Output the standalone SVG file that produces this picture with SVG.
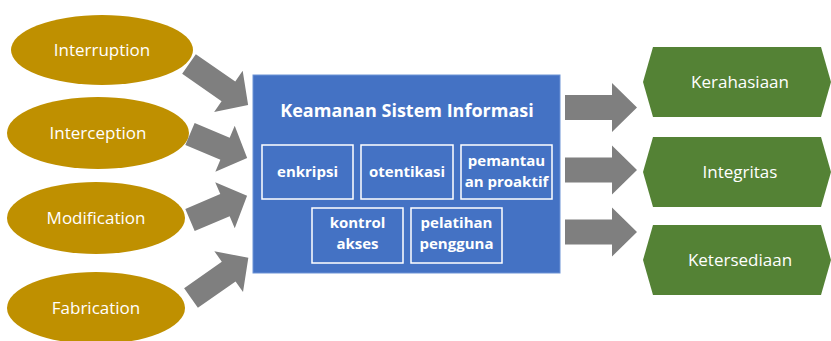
<svg xmlns="http://www.w3.org/2000/svg" width="831" height="341" viewBox="0 0 831 341">
  <style>
    .threat { fill: #BF9000; }
    .goal { fill: #548235; }
    .core { fill: #4472C4; stroke: #6d93d6; stroke-width: 1; }
    .item { fill: none; stroke: #ffffff; stroke-width: 1.5; }
    .arrow { fill: #7F7F7F; }
    .lbl { font-family: "Open Sans", "Noto Sans", sans-serif; font-size: 17px; fill: #ffffff; text-anchor: middle; }
    .title { font-family: "Open Sans", "Noto Sans", sans-serif; font-size: 18px; font-weight: bold; fill: #ffffff; text-anchor: middle; }
    .sub { font-family: "Open Sans", "Noto Sans", sans-serif; font-size: 15px; font-weight: bold; fill: #ffffff; text-anchor: middle; }
  </style>
  <rect width="831" height="341" fill="#ffffff"/>

  <!-- threats -->
  <g id="interruption">
    <ellipse class="threat" cx="102" cy="50" rx="91" ry="35"/>
    <text class="lbl" x="102" y="56">Interruption</text>
  </g>
  <g id="interception">
    <ellipse class="threat" cx="98" cy="133" rx="91" ry="36"/>
    <text class="lbl" x="98" y="139">Interception</text>
  </g>
  <g id="modification">
    <ellipse class="threat" cx="96" cy="218" rx="89" ry="36"/>
    <text class="lbl" x="96" y="224">Modification</text>
  </g>
  <g id="fabrication">
    <ellipse class="threat" cx="96" cy="308" rx="89" ry="36"/>
    <text class="lbl" x="96" y="314">Fabrication</text>
  </g>

  <!-- central block -->
  <g id="keamanan">
    <rect class="core" x="253" y="75" width="307" height="198"/>
    <text class="title" x="407" y="117">Keamanan Sistem Informasi</text>
  </g>
  <g id="enkripsi">
    <rect class="item" x="262" y="145" width="91" height="54"/>
    <text class="sub" x="307.5" y="177">enkripsi</text>
  </g>
  <g id="otentikasi">
    <rect class="item" x="361" y="145" width="92" height="54"/>
    <text class="sub" x="407" y="177">otentikasi</text>
  </g>
  <g id="pemantauan">
    <rect class="item" x="461" y="145" width="91" height="54"/>
    <text class="sub" x="506.5" y="166">pemantau</text>
    <text class="sub" x="506.5" y="187">an proaktif</text>
  </g>
  <g id="kontrol">
    <rect class="item" x="312" y="208" width="91" height="55"/>
    <text class="sub" x="357.5" y="228">kontrol</text>
    <text class="sub" x="357.5" y="249">akses</text>
  </g>
  <g id="pelatihan">
    <rect class="item" x="411" y="208" width="91" height="55"/>
    <text class="sub" x="456.5" y="228">pelatihan</text>
    <text class="sub" x="456.5" y="249">pengguna</text>
  </g>

  <!-- goals -->
  <g id="kerahasiaan">
    <polygon class="goal" points="643,82 653,47 821,47 831,82 821,117 653,117"/>
    <text class="lbl" x="740" y="88">Kerahasiaan</text>
  </g>
  <g id="integritas">
    <polygon class="goal" points="643,172 653,137 821,137 831,172 821,207 653,207"/>
    <text class="lbl" x="740" y="178">Integritas</text>
  </g>
  <g id="ketersediaan">
    <polygon class="goal" points="643,260 653,225 821,225 831,260 821,295 653,295"/>
    <text class="lbl" x="740" y="266">Ketersediaan</text>
  </g>

  <!-- connectors -->
  <g id="connectors">
    <path class="arrow" transform="translate(189,64) rotate(34.8)" d="M0,-12 H48 V-25 L72,0 L48,25 V12 H0 Z"/>
    <path class="arrow" transform="translate(190,134) rotate(22.8)" d="M0,-12 H38 V-25 L62,0 L38,25 V12 H0 Z"/>
    <path class="arrow" transform="translate(190,220) rotate(-23)" d="M0,-12 H38 V-25 L62,0 L38,25 V12 H0 Z"/>
    <path class="arrow" transform="translate(191,298) rotate(-35)" d="M0,-12 H46 V-25 L70,0 L46,25 V12 H0 Z"/>
    <path class="arrow" transform="translate(565,107.5)" d="M0,-12.5 H47 V-24.5 L72,0 L47,24.5 V12.5 H0 Z"/>
    <path class="arrow" transform="translate(565,170)" d="M0,-12.5 H47 V-24.5 L72,0 L47,24.5 V12.5 H0 Z"/>
    <path class="arrow" transform="translate(565,232)" d="M0,-12.5 H47 V-24.5 L72,0 L47,24.5 V12.5 H0 Z"/>
  </g>
</svg>
